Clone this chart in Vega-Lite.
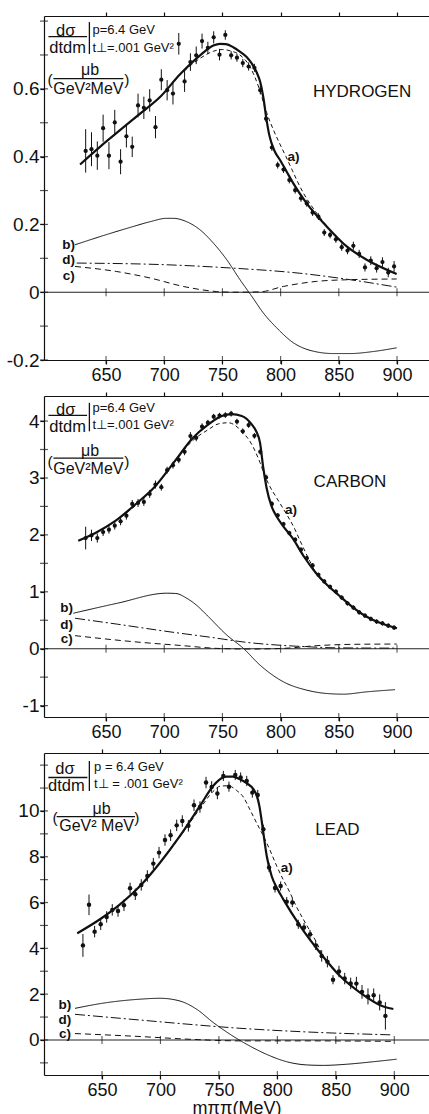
{
"$schema":"https://vega.github.io/schema/vega-lite/v6.json",
"background":"white",
"padding":{"left":0,"top":11,"right":0,"bottom":0},
"spacing":7,
"config":{"view":{"stroke":null},"font":"Liberation Sans","axis":{"labelFont":"Liberation Sans","titleFont":"Liberation Sans","domainColor":"#111","tickColor":"#111","labelColor":"#111","titleColor":"#111","domainWidth":1.2,"tickWidth":1.2,"grid":false,"labelOverlap":false}},
"datasets":{
"xt":[{"m":650},{"m":700},{"m":750},{"m":800},{"m":850},{"m":900}],
"yt":[{"p":"H","v":-0.2},{"p":"H","v":-0.1},{"p":"H","v":0},{"p":"H","v":0.1},{"p":"H","v":0.2},{"p":"H","v":0.3},{"p":"H","v":0.4},{"p":"H","v":0.5},{"p":"H","v":0.6},{"p":"H","v":0.7},{"p":"H","v":0.8},
{"p":"C","v":-1},{"p":"C","v":-0.5},{"p":"C","v":0},{"p":"C","v":0.5},{"p":"C","v":1},{"p":"C","v":1.5},{"p":"C","v":2},{"p":"C","v":2.5},{"p":"C","v":3},{"p":"C","v":3.5},{"p":"C","v":4},
{"p":"L","v":-1},{"p":"L","v":0},{"p":"L","v":1},{"p":"L","v":2},{"p":"L","v":3},{"p":"L","v":4},{"p":"L","v":5},{"p":"L","v":6},{"p":"L","v":7},{"p":"L","v":8},{"p":"L","v":9},{"p":"L","v":10},{"p":"L","v":11},{"p":"L","v":12}],
"pts":[
{"p":"H","m":632.5,"v":0.417,"lo":0.353,"hi":0.481},{"p":"H","m":637.5,"v":0.422,"lo":0.372,"hi":0.472},{"p":"H","m":642.5,"v":0.403,"lo":0.361,"hi":0.445},{"p":"H","m":647.5,"v":0.484,"lo":0.444,"hi":0.524},{"p":"H","m":652.5,"v":0.403,"lo":0.363,"hi":0.443},{"p":"H","m":657.5,"v":0.501,"lo":0.464,"hi":0.538},{"p":"H","m":662.5,"v":0.385,"lo":0.348,"hi":0.422},{"p":"H","m":667.5,"v":0.46,"lo":0.427,"hi":0.493},{"p":"H","m":672.5,"v":0.429,"lo":0.399,"hi":0.459},{"p":"H","m":677.5,"v":0.551,"lo":0.516,"hi":0.586},{"p":"H","m":682.5,"v":0.544,"lo":0.511,"hi":0.577},{"p":"H","m":687.5,"v":0.566,"lo":0.533,"hi":0.599},{"p":"H","m":692.5,"v":0.487,"lo":0.454,"hi":0.52},{"p":"H","m":697.5,"v":0.627,"lo":0.596,"hi":0.658},{"p":"H","m":702.5,"v":0.596,"lo":0.566,"hi":0.626},{"p":"H","m":707.5,"v":0.586,"lo":0.554,"hi":0.618},{"p":"H","m":712.5,"v":0.733,"lo":0.701,"hi":0.765},{"p":"H","m":717.5,"v":0.622,"lo":0.591,"hi":0.653},{"p":"H","m":722.5,"v":0.679,"lo":0.653,"hi":0.705},{"p":"H","m":727.5,"v":0.699,"lo":0.673,"hi":0.725},{"p":"H","m":732.5,"v":0.741,"lo":0.719,"hi":0.763},{"p":"H","m":737.5,"v":0.721,"lo":0.703,"hi":0.739},{"p":"H","m":742.5,"v":0.752,"lo":0.734,"hi":0.77},{"p":"H","m":747.5,"v":0.701,"lo":0.684,"hi":0.718},{"p":"H","m":752.5,"v":0.759,"lo":0.745,"hi":0.773},{"p":"H","m":757.5,"v":0.699,"lo":0.687,"hi":0.711},{"p":"H","m":762.5,"v":0.692,"lo":0.68,"hi":0.704},{"p":"H","m":767.5,"v":0.676,"lo":0.664,"hi":0.688},{"p":"H","m":772.5,"v":0.666,"lo":0.654,"hi":0.678},{"p":"H","m":777.5,"v":0.662,"lo":0.65,"hi":0.674},{"p":"H","m":782.5,"v":0.596,"lo":0.584,"hi":0.608},{"p":"H","m":787.5,"v":0.512,"lo":0.502,"hi":0.522},{"p":"H","m":792.5,"v":0.427,"lo":0.417,"hi":0.437},{"p":"H","m":797.5,"v":0.375,"lo":0.365,"hi":0.385},{"p":"H","m":802.5,"v":0.362,"lo":0.352,"hi":0.372},{"p":"H","m":807.5,"v":0.331,"lo":0.321,"hi":0.341},{"p":"H","m":812.5,"v":0.301,"lo":0.291,"hi":0.311},{"p":"H","m":817.5,"v":0.277,"lo":0.267,"hi":0.287},{"p":"H","m":822.5,"v":0.262,"lo":0.252,"hi":0.272},{"p":"H","m":827.5,"v":0.235,"lo":0.225,"hi":0.245},{"p":"H","m":832.5,"v":0.223,"lo":0.213,"hi":0.233},{"p":"H","m":837.5,"v":0.176,"lo":0.166,"hi":0.186},{"p":"H","m":842.5,"v":0.169,"lo":0.159,"hi":0.179},{"p":"H","m":847.5,"v":0.156,"lo":0.146,"hi":0.166},{"p":"H","m":852.5,"v":0.133,"lo":0.122,"hi":0.144},{"p":"H","m":857.5,"v":0.123,"lo":0.112,"hi":0.134},{"p":"H","m":862.5,"v":0.137,"lo":0.125,"hi":0.149},{"p":"H","m":867.5,"v":0.113,"lo":0.101,"hi":0.125},{"p":"H","m":872.5,"v":0.073,"lo":0.061,"hi":0.085},{"p":"H","m":877.5,"v":0.093,"lo":0.08,"hi":0.106},{"p":"H","m":882.5,"v":0.071,"lo":0.058,"hi":0.084},{"p":"H","m":887.5,"v":0.089,"lo":0.075,"hi":0.103},{"p":"H","m":892.5,"v":0.058,"lo":0.044,"hi":0.072},{"p":"H","m":897.5,"v":0.076,"lo":0.06,"hi":0.092},
{"p":"C","m":632.5,"v":1.944,"lo":1.744,"hi":2.144},{"p":"C","m":637.5,"v":1.991,"lo":1.891,"hi":2.091},{"p":"C","m":642.5,"v":1.944,"lo":1.864,"hi":2.024},{"p":"C","m":647.5,"v":2.05,"lo":1.98,"hi":2.12},{"p":"C","m":652.5,"v":2.091,"lo":2.021,"hi":2.161},{"p":"C","m":657.5,"v":2.162,"lo":2.092,"hi":2.232},{"p":"C","m":662.5,"v":2.238,"lo":2.168,"hi":2.308},{"p":"C","m":667.5,"v":2.338,"lo":2.268,"hi":2.408},{"p":"C","m":672.5,"v":2.543,"lo":2.473,"hi":2.613},{"p":"C","m":677.5,"v":2.561,"lo":2.491,"hi":2.631},{"p":"C","m":682.5,"v":2.579,"lo":2.509,"hi":2.649},{"p":"C","m":687.5,"v":2.72,"lo":2.65,"hi":2.79},{"p":"C","m":692.5,"v":2.884,"lo":2.814,"hi":2.954},{"p":"C","m":697.5,"v":2.837,"lo":2.777,"hi":2.897},{"p":"C","m":702.5,"v":3.137,"lo":3.077,"hi":3.197},{"p":"C","m":707.5,"v":3.225,"lo":3.165,"hi":3.285},{"p":"C","m":712.5,"v":3.319,"lo":3.259,"hi":3.379},{"p":"C","m":717.5,"v":3.46,"lo":3.4,"hi":3.52},{"p":"C","m":722.5,"v":3.736,"lo":3.666,"hi":3.806},{"p":"C","m":727.5,"v":3.706,"lo":3.646,"hi":3.766},{"p":"C","m":732.5,"v":3.9,"lo":3.84,"hi":3.96},{"p":"C","m":737.5,"v":3.971,"lo":3.921,"hi":4.021},{"p":"C","m":742.5,"v":4.076,"lo":4.026,"hi":4.126},{"p":"C","m":747.5,"v":4.094,"lo":4.044,"hi":4.144},{"p":"C","m":752.5,"v":4.106,"lo":4.056,"hi":4.156},{"p":"C","m":757.5,"v":4.129,"lo":4.079,"hi":4.179},{"p":"C","m":762.5,"v":3.99,"lo":3.94,"hi":4.04},{"p":"C","m":767.5,"v":3.82,"lo":3.77,"hi":3.87},{"p":"C","m":772.5,"v":3.93,"lo":3.88,"hi":3.98},{"p":"C","m":777.5,"v":3.74,"lo":3.69,"hi":3.79},{"p":"C","m":782.5,"v":3.46,"lo":3.41,"hi":3.51},{"p":"C","m":787.5,"v":3.01,"lo":2.96,"hi":3.06},{"p":"C","m":792.5,"v":2.543,"lo":2.493,"hi":2.593},{"p":"C","m":797.5,"v":2.344,"lo":2.304,"hi":2.384},{"p":"C","m":802.5,"v":2.19,"lo":2.15,"hi":2.23},{"p":"C","m":807.5,"v":2.032,"lo":1.992,"hi":2.072},{"p":"C","m":812.5,"v":1.915,"lo":1.875,"hi":1.955},{"p":"C","m":817.5,"v":1.739,"lo":1.699,"hi":1.779},{"p":"C","m":822.5,"v":1.591,"lo":1.551,"hi":1.631},{"p":"C","m":827.5,"v":1.463,"lo":1.423,"hi":1.503},{"p":"C","m":832.5,"v":1.298,"lo":1.258,"hi":1.338},{"p":"C","m":837.5,"v":1.181,"lo":1.141,"hi":1.221},{"p":"C","m":842.5,"v":1.087,"lo":1.047,"hi":1.127},{"p":"C","m":847.5,"v":1.004,"lo":0.964,"hi":1.044},{"p":"C","m":852.5,"v":0.899,"lo":0.859,"hi":0.939},{"p":"C","m":857.5,"v":0.798,"lo":0.758,"hi":0.838},{"p":"C","m":862.5,"v":0.722,"lo":0.682,"hi":0.762},{"p":"C","m":867.5,"v":0.64,"lo":0.6,"hi":0.68},{"p":"C","m":872.5,"v":0.581,"lo":0.541,"hi":0.621},{"p":"C","m":877.5,"v":0.522,"lo":0.482,"hi":0.562},{"p":"C","m":882.5,"v":0.476,"lo":0.436,"hi":0.516},{"p":"C","m":887.5,"v":0.446,"lo":0.406,"hi":0.486},{"p":"C","m":892.5,"v":0.405,"lo":0.365,"hi":0.445},{"p":"C","m":897.5,"v":0.37,"lo":0.33,"hi":0.41},
{"p":"L","m":633.7,"v":4.13,"lo":3.63,"hi":4.63},{"p":"L","m":638.9,"v":5.9,"lo":5.45,"hi":6.35},{"p":"L","m":643.7,"v":4.73,"lo":4.48,"hi":4.98},{"p":"L","m":648.9,"v":5.05,"lo":4.8,"hi":5.3},{"p":"L","m":654,"v":5.37,"lo":5.12,"hi":5.62},{"p":"L","m":658.8,"v":5.68,"lo":5.43,"hi":5.93},{"p":"L","m":663.7,"v":5.63,"lo":5.38,"hi":5.88},{"p":"L","m":668.8,"v":5.88,"lo":5.63,"hi":6.13},{"p":"L","m":674,"v":6.62,"lo":6.37,"hi":6.87},{"p":"L","m":678.5,"v":6.36,"lo":6.11,"hi":6.61},{"p":"L","m":683.6,"v":6.77,"lo":6.52,"hi":7.02},{"p":"L","m":688.8,"v":7.16,"lo":6.91,"hi":7.41},{"p":"L","m":693.9,"v":7.7,"lo":7.45,"hi":7.95},{"p":"L","m":698.8,"v":8.18,"lo":7.93,"hi":8.43},{"p":"L","m":703.9,"v":8.73,"lo":8.48,"hi":8.98},{"p":"L","m":708.7,"v":8.94,"lo":8.69,"hi":9.19},{"p":"L","m":713.9,"v":9.37,"lo":9.12,"hi":9.62},{"p":"L","m":718.7,"v":9.56,"lo":9.31,"hi":9.81},{"p":"L","m":723.9,"v":9.35,"lo":9.1,"hi":9.6},{"p":"L","m":728.7,"v":10.25,"lo":10.0,"hi":10.5},{"p":"L","m":733.8,"v":10.17,"lo":9.92,"hi":10.42},{"p":"L","m":739,"v":11.24,"lo":10.99,"hi":11.49},{"p":"L","m":743.8,"v":11.05,"lo":10.8,"hi":11.3},{"p":"L","m":748.7,"v":10.76,"lo":10.51,"hi":11.01},{"p":"L","m":753.8,"v":11.53,"lo":11.31,"hi":11.75},{"p":"L","m":758.6,"v":11.06,"lo":10.84,"hi":11.28},{"p":"L","m":764,"v":11.57,"lo":11.35,"hi":11.79},{"p":"L","m":768.6,"v":11.46,"lo":11.24,"hi":11.68},{"p":"L","m":773.8,"v":11.31,"lo":11.09,"hi":11.53},{"p":"L","m":778.6,"v":10.8,"lo":10.58,"hi":11.02},{"p":"L","m":783.2,"v":10.7,"lo":10.48,"hi":10.92},{"p":"L","m":788,"v":9.2,"lo":9.0,"hi":9.4},{"p":"L","m":792.9,"v":7.53,"lo":7.33,"hi":7.73},{"p":"L","m":798,"v":6.64,"lo":6.44,"hi":6.84},{"p":"L","m":802.8,"v":6.72,"lo":6.52,"hi":6.92},{"p":"L","m":808,"v":6.04,"lo":5.84,"hi":6.24},{"p":"L","m":812.8,"v":6.0,"lo":5.8,"hi":6.2},{"p":"L","m":817.9,"v":5.05,"lo":4.85,"hi":5.25},{"p":"L","m":822.8,"v":4.91,"lo":4.71,"hi":5.11},{"p":"L","m":827.9,"v":4.61,"lo":4.41,"hi":4.81},{"p":"L","m":832.8,"v":4.13,"lo":3.93,"hi":4.33},{"p":"L","m":837.9,"v":3.67,"lo":3.42,"hi":3.92},{"p":"L","m":842.8,"v":3.42,"lo":3.17,"hi":3.67},{"p":"L","m":847.6,"v":2.63,"lo":2.43,"hi":2.83},{"p":"L","m":852.7,"v":2.99,"lo":2.74,"hi":3.24},{"p":"L","m":857.6,"v":2.68,"lo":2.43,"hi":2.93},{"p":"L","m":862.7,"v":2.47,"lo":2.22,"hi":2.72},{"p":"L","m":867.6,"v":2.46,"lo":2.16,"hi":2.76},{"p":"L","m":872.4,"v":2.1,"lo":1.8,"hi":2.4},{"p":"L","m":877.5,"v":1.9,"lo":1.55,"hi":2.25},{"p":"L","m":882.4,"v":1.95,"lo":1.65,"hi":2.25},{"p":"L","m":887.5,"v":1.64,"lo":1.29,"hi":1.99},{"p":"L","m":892.4,"v":1.05,"lo":0.45,"hi":1.65}
],
"crv":[
{"p":"H","c":"a","m":627.7,"v":0.377},{"p":"H","c":"a","m":644.8,"v":0.429},{"p":"H","c":"a","m":662,"v":0.478},{"p":"H","c":"a","m":679.2,"v":0.527},{"p":"H","c":"a","m":696.4,"v":0.576},{"p":"H","c":"a","m":713.6,"v":0.643},{"p":"H","c":"a","m":730.8,"v":0.699},{"p":"H","c":"a","m":742.2,"v":0.728},{"p":"H","c":"a","m":747.8,"v":0.733},{"p":"H","c":"a","m":753,"v":0.732},{"p":"H","c":"a","m":759.3,"v":0.723},{"p":"H","c":"a","m":765,"v":0.71},{"p":"H","c":"a","m":770.8,"v":0.694},{"p":"H","c":"a","m":775,"v":0.676},{"p":"H","c":"a","m":779.4,"v":0.649},{"p":"H","c":"a","m":782.5,"v":0.62},{"p":"H","c":"a","m":785.1,"v":0.576},{"p":"H","c":"a","m":788,"v":0.507},{"p":"H","c":"a","m":790,"v":0.468},{"p":"H","c":"a","m":792.3,"v":0.439},{"p":"H","c":"a","m":795,"v":0.415},{"p":"H","c":"a","m":799.5,"v":0.39},{"p":"H","c":"a","m":805,"v":0.357},{"p":"H","c":"a","m":810.9,"v":0.321},{"p":"H","c":"a","m":822.4,"v":0.262},{"p":"H","c":"a","m":839.6,"v":0.194},{"p":"H","c":"a","m":856.8,"v":0.135},{"p":"H","c":"a","m":873.9,"v":0.096},{"p":"H","c":"a","m":899.7,"v":0.054},
{"p":"H","c":"a0","m":627.7,"v":0.377},{"p":"H","c":"a0","m":662,"v":0.478},{"p":"H","c":"a0","m":696.4,"v":0.576},{"p":"H","c":"a0","m":713.6,"v":0.641},{"p":"H","c":"a0","m":730.8,"v":0.69},{"p":"H","c":"a0","m":742.2,"v":0.711},{"p":"H","c":"a0","m":750,"v":0.716},{"p":"H","c":"a0","m":757,"v":0.712},{"p":"H","c":"a0","m":765,"v":0.7},{"p":"H","c":"a0","m":773.7,"v":0.665},{"p":"H","c":"a0","m":781.7,"v":0.6},{"p":"H","c":"a0","m":788,"v":0.53},{"p":"H","c":"a0","m":793.7,"v":0.48},{"p":"H","c":"a0","m":799,"v":0.44},{"p":"H","c":"a0","m":804.6,"v":0.4},{"p":"H","c":"a0","m":810,"v":0.36},{"p":"H","c":"a0","m":814.7,"v":0.325},{"p":"H","c":"a0","m":820,"v":0.29},{"p":"H","c":"a0","m":826.7,"v":0.254},{"p":"H","c":"a0","m":839.6,"v":0.196},
{"p":"H","c":"b","m":623.4,"v":0.14},{"p":"H","c":"b","m":644.8,"v":0.164},{"p":"H","c":"b","m":673.5,"v":0.194},{"p":"H","c":"b","m":687.8,"v":0.208},{"p":"H","c":"b","m":702.1,"v":0.218},{"p":"H","c":"b","m":707.8,"v":0.218},{"p":"H","c":"b","m":719.3,"v":0.208},{"p":"H","c":"b","m":730.8,"v":0.184},{"p":"H","c":"b","m":742.2,"v":0.145},{"p":"H","c":"b","m":753.7,"v":0.096},{"p":"H","c":"b","m":765.1,"v":0.037},{"p":"H","c":"b","m":775.2,"v":-0.012},{"p":"H","c":"b","m":785.1,"v":-0.061},{"p":"H","c":"b","m":796.6,"v":-0.105},{"p":"H","c":"b","m":810.9,"v":-0.149},{"p":"H","c":"b","m":828.1,"v":-0.174},{"p":"H","c":"b","m":845.3,"v":-0.181},{"p":"H","c":"b","m":859.6,"v":-0.181},{"p":"H","c":"b","m":879.6,"v":-0.175},{"p":"H","c":"b","m":899.7,"v":-0.164},
{"p":"H","c":"d","m":624.8,"v":0.086},{"p":"H","c":"d","m":702,"v":0.081},{"p":"H","c":"d","m":759.3,"v":0.071},{"p":"H","c":"d","m":816.5,"v":0.056},{"p":"H","c":"d","m":859.6,"v":0.037},{"p":"H","c":"d","m":899.7,"v":0.015},
{"p":"H","c":"c","m":623.4,"v":0.076},{"p":"H","c":"c","m":659.2,"v":0.061},{"p":"H","c":"c","m":687.8,"v":0.042},{"p":"H","c":"c","m":716.4,"v":0.017},{"p":"H","c":"c","m":745,"v":0.002},{"p":"H","c":"c","m":759.3,"v":0.0},{"p":"H","c":"c","m":782.2,"v":0.001},{"p":"H","c":"c","m":802.3,"v":0.017},{"p":"H","c":"c","m":831,"v":0.032},{"p":"H","c":"c","m":859.6,"v":0.037},{"p":"H","c":"c","m":899.7,"v":0.039},
{"p":"C","c":"a","m":626.2,"v":1.898},{"p":"C","c":"a","m":640.5,"v":2.03},{"p":"C","c":"a","m":657.7,"v":2.24},{"p":"C","c":"a","m":674.9,"v":2.53},{"p":"C","c":"a","m":692.1,"v":2.85},{"p":"C","c":"a","m":709.3,"v":3.3},{"p":"C","c":"a","m":723.6,"v":3.68},{"p":"C","c":"a","m":737.9,"v":3.94},{"p":"C","c":"a","m":749.4,"v":4.09},{"p":"C","c":"a","m":758,"v":4.12},{"p":"C","c":"a","m":766.6,"v":4.09},{"p":"C","c":"a","m":775.2,"v":3.94},{"p":"C","c":"a","m":779,"v":3.82},{"p":"C","c":"a","m":782.3,"v":3.62},{"p":"C","c":"a","m":785.1,"v":3.18},{"p":"C","c":"a","m":788,"v":2.82},{"p":"C","c":"a","m":792.3,"v":2.5},{"p":"C","c":"a","m":797,"v":2.31},{"p":"C","c":"a","m":802,"v":2.16},{"p":"C","c":"a","m":810,"v":1.95},{"p":"C","c":"a","m":820,"v":1.62},{"p":"C","c":"a","m":830,"v":1.34},{"p":"C","c":"a","m":840,"v":1.12},{"p":"C","c":"a","m":850,"v":0.94},{"p":"C","c":"a","m":860,"v":0.76},{"p":"C","c":"a","m":870,"v":0.61},{"p":"C","c":"a","m":880,"v":0.5},{"p":"C","c":"a","m":890,"v":0.42},{"p":"C","c":"a","m":900,"v":0.36},
{"p":"C","c":"a0","m":626.2,"v":1.898},{"p":"C","c":"a0","m":657.7,"v":2.24},{"p":"C","c":"a0","m":692.1,"v":2.85},{"p":"C","c":"a0","m":709.3,"v":3.29},{"p":"C","c":"a0","m":723.6,"v":3.64},{"p":"C","c":"a0","m":737.9,"v":3.85},{"p":"C","c":"a0","m":746.5,"v":3.95},{"p":"C","c":"a0","m":755.1,"v":3.97},{"p":"C","c":"a0","m":766.6,"v":3.82},{"p":"C","c":"a0","m":775.2,"v":3.59},{"p":"C","c":"a0","m":782.3,"v":3.27},{"p":"C","c":"a0","m":786.6,"v":3.03},{"p":"C","c":"a0","m":790,"v":2.88},{"p":"C","c":"a0","m":796.6,"v":2.65},{"p":"C","c":"a0","m":804,"v":2.4},{"p":"C","c":"a0","m":811,"v":2.15},{"p":"C","c":"a0","m":818,"v":1.84},{"p":"C","c":"a0","m":825.3,"v":1.53},{"p":"C","c":"a0","m":831,"v":1.31},{"p":"C","c":"a0","m":840,"v":1.12},
{"p":"C","c":"b","m":621.9,"v":0.623},{"p":"C","c":"b","m":660,"v":0.8},{"p":"C","c":"b","m":702.1,"v":0.975},{"p":"C","c":"b","m":710,"v":0.97},{"p":"C","c":"b","m":719.3,"v":0.887},{"p":"C","c":"b","m":728,"v":0.76},{"p":"C","c":"b","m":736.5,"v":0.593},{"p":"C","c":"b","m":753.7,"v":0.241},{"p":"C","c":"b","m":768,"v":0.006},{"p":"C","c":"b","m":782.3,"v":-0.288},{"p":"C","c":"b","m":802.3,"v":-0.581},{"p":"C","c":"b","m":822.4,"v":-0.728},{"p":"C","c":"b","m":839.6,"v":-0.787},{"p":"C","c":"b","m":853.9,"v":-0.799},{"p":"C","c":"b","m":873.9,"v":-0.758},{"p":"C","c":"b","m":898.3,"v":-0.72},
{"p":"C","c":"d","m":623.4,"v":0.535},{"p":"C","c":"d","m":660,"v":0.43},{"p":"C","c":"d","m":700,"v":0.31},{"p":"C","c":"d","m":740,"v":0.2},{"p":"C","c":"d","m":770.9,"v":0.111},{"p":"C","c":"d","m":800,"v":0.06},{"p":"C","c":"d","m":822.4,"v":0.035},{"p":"C","c":"d","m":848,"v":0.015},{"p":"C","c":"d","m":900,"v":0.01},
{"p":"C","c":"c","m":623.4,"v":0.229},{"p":"C","c":"c","m":673.5,"v":0.123},{"p":"C","c":"c","m":716.4,"v":0.053},{"p":"C","c":"c","m":745,"v":0.006},{"p":"C","c":"c","m":773.7,"v":-0.006},{"p":"C","c":"c","m":802.3,"v":0.006},{"p":"C","c":"c","m":831,"v":0.053},{"p":"C","c":"c","m":859.6,"v":0.076},{"p":"C","c":"c","m":899.7,"v":0.082},
{"p":"L","c":"a","m":628.9,"v":4.66},{"p":"L","c":"a","m":648.3,"v":5.27},{"p":"L","c":"a","m":665.4,"v":5.92},{"p":"L","c":"a","m":682.5,"v":6.72},{"p":"L","c":"a","m":699.6,"v":7.74},{"p":"L","c":"a","m":716.7,"v":8.91},{"p":"L","c":"a","m":733.8,"v":10.22},{"p":"L","c":"a","m":745.2,"v":11.1},{"p":"L","c":"a","m":750,"v":11.35},{"p":"L","c":"a","m":756.6,"v":11.5},{"p":"L","c":"a","m":762,"v":11.5},{"p":"L","c":"a","m":768,"v":11.38},{"p":"L","c":"a","m":774,"v":11.2},{"p":"L","c":"a","m":779.5,"v":10.95},{"p":"L","c":"a","m":782.5,"v":10.65},{"p":"L","c":"a","m":784.6,"v":10.22},{"p":"L","c":"a","m":786.5,"v":9.6},{"p":"L","c":"a","m":788,"v":9.05},{"p":"L","c":"a","m":790.9,"v":8.03},{"p":"L","c":"a","m":795.1,"v":7.16},{"p":"L","c":"a","m":800,"v":6.6},{"p":"L","c":"a","m":805.1,"v":6.14},{"p":"L","c":"a","m":819.4,"v":4.98},{"p":"L","c":"a","m":836.5,"v":3.81},{"p":"L","c":"a","m":853.6,"v":2.79},{"p":"L","c":"a","m":870.7,"v":2.07},{"p":"L","c":"a","m":890.7,"v":1.46},{"p":"L","c":"a","m":899.2,"v":1.35},
{"p":"L","c":"a0","m":628.9,"v":4.66},{"p":"L","c":"a0","m":665.4,"v":5.92},{"p":"L","c":"a0","m":699.6,"v":7.74},{"p":"L","c":"a0","m":716.7,"v":8.88},{"p":"L","c":"a0","m":733.8,"v":10.1},{"p":"L","c":"a0","m":745,"v":10.85},{"p":"L","c":"a0","m":751,"v":11.08},{"p":"L","c":"a0","m":758,"v":11.1},{"p":"L","c":"a0","m":765,"v":10.9},{"p":"L","c":"a0","m":771,"v":10.6},{"p":"L","c":"a0","m":776.6,"v":10.05},{"p":"L","c":"a0","m":782,"v":9.5},{"p":"L","c":"a0","m":788,"v":8.91},{"p":"L","c":"a0","m":794,"v":8.25},{"p":"L","c":"a0","m":799.4,"v":7.6},{"p":"L","c":"a0","m":805,"v":7.0},{"p":"L","c":"a0","m":810.8,"v":6.43},{"p":"L","c":"a0","m":816,"v":5.85},{"p":"L","c":"a0","m":822.2,"v":5.27},{"p":"L","c":"a0","m":828,"v":4.75},{"p":"L","c":"a0","m":833.6,"v":4.25},{"p":"L","c":"a0","m":838,"v":3.75},
{"p":"L","c":"b","m":626.9,"v":1.38},{"p":"L","c":"b","m":654,"v":1.63},{"p":"L","c":"b","m":682.5,"v":1.78},{"p":"L","c":"b","m":699.6,"v":1.82},{"p":"L","c":"b","m":716.7,"v":1.7},{"p":"L","c":"b","m":731,"v":1.34},{"p":"L","c":"b","m":745.2,"v":0.76},{"p":"L","c":"b","m":759.5,"v":0.25},{"p":"L","c":"b","m":773.8,"v":-0.19},{"p":"L","c":"b","m":790.9,"v":-0.63},{"p":"L","c":"b","m":808,"v":-0.95},{"p":"L","c":"b","m":825.1,"v":-1.09},{"p":"L","c":"b","m":839.3,"v":-1.11},{"p":"L","c":"b","m":859.3,"v":-1.06},{"p":"L","c":"b","m":882.1,"v":-0.95},{"p":"L","c":"b","m":902,"v":-0.84},
{"p":"L","c":"d","m":626.9,"v":1.12},{"p":"L","c":"d","m":682.5,"v":0.87},{"p":"L","c":"d","m":725.3,"v":0.68},{"p":"L","c":"d","m":768,"v":0.51},{"p":"L","c":"d","m":825.1,"v":0.35},{"p":"L","c":"d","m":899.2,"v":0.22},
{"p":"L","c":"c","m":626.9,"v":0.28},{"p":"L","c":"c","m":682.5,"v":0.15},{"p":"L","c":"c","m":725.3,"v":0.03},{"p":"L","c":"c","m":768,"v":-0.04},{"p":"L","c":"c","m":825.1,"v":-0.04},{"p":"L","c":"c","m":899.2,"v":-0.06}
],
"txt":[
{"p":"H","k":"lab","m":617.9,"v":0.14,"t":"b)"},{"p":"H","k":"lab","m":617.9,"v":0.096,"t":"d)"},{"p":"H","k":"lab","m":617.9,"v":0.049,"t":"c)"},{"p":"H","k":"lab","m":811,"v":0.4,"t":"a)"},
{"p":"H","k":"name","m":870,"v":0.59,"t":"HYDROGEN"},{"p":"H","k":"frac","m":615.4,"v":0.772,"t":"dσ"},{"p":"H","k":"frac","m":617,"v":0.722,"t":"dtdm"},{"p":"H","k":"unit","m":636.3,"v":0.655,"t":"μb"},{"p":"H","k":"unit","m":634.8,"v":0.601,"t":"GeV²MeV"},{"p":"H","k":"paren","m":601.9,"v":0.627,"t":"("},{"p":"H","k":"paren","m":667.8,"v":0.627,"t":")"},
{"p":"H","k":"note","m":638.3,"v":0.774,"t":"p=6.4 GeV"},{"p":"H","k":"note","m":638.3,"v":0.721,"t":"t⊥=.001 GeV²"},
{"p":"C","k":"lab","m":616.2,"v":0.71,"t":"b)"},{"p":"C","k":"lab","m":616.2,"v":0.417,"t":"d)"},{"p":"C","k":"lab","m":616.2,"v":0.17,"t":"c)"},{"p":"C","k":"lab","m":808.9,"v":2.44,"t":"a)"},
{"p":"C","k":"name","m":859.6,"v":2.93,"t":"CARBON"},{"p":"C","k":"frac","m":615.4,"v":4.19,"t":"dσ"},{"p":"C","k":"frac","m":617,"v":3.894,"t":"dtdm"},{"p":"C","k":"unit","m":636.3,"v":3.48,"t":"μb"},{"p":"C","k":"unit","m":634.8,"v":3.15,"t":"GeV²MeV"},{"p":"C","k":"paren","m":601.9,"v":3.28,"t":"("},{"p":"C","k":"paren","m":667.8,"v":3.28,"t":")"},
{"p":"C","k":"note","m":638.3,"v":4.23,"t":"p=6.4 GeV"},{"p":"C","k":"note","m":638.3,"v":3.93,"t":"t⊥=.001 GeV²"},
{"p":"L","k":"lab","m":618.3,"v":1.52,"t":"b)"},{"p":"L","k":"lab","m":618.3,"v":0.85,"t":"d)"},{"p":"L","k":"lab","m":618.3,"v":0.24,"t":"c)"},{"p":"L","k":"lab","m":808,"v":7.53,"t":"a)"},
{"p":"L","k":"name","m":851.3,"v":9.17,"t":"LEAD"},{"p":"L","k":"frac","m":618.3,"v":11.82,"t":"dσ"},{"p":"L","k":"frac","m":619.5,"v":11.1,"t":"dtdm"},{"p":"L","k":"unit","m":649.7,"v":10.07,"t":"μb"},{"p":"L","k":"unit","m":645.4,"v":9.34,"t":"GeV² MeV"},{"p":"L","k":"paren","m":609.8,"v":9.71,"t":"("},{"p":"L","k":"paren","m":679.7,"v":9.71,"t":")"},
{"p":"L","k":"note","m":643.2,"v":11.92,"t":"p = 6.4 GeV"},{"p":"L","k":"note","m":643.2,"v":11.19,"t":"t⊥ = .001 GeV²"}
],
"seg":[
{"p":"H","m":600.5,"m2":633.7,"v":0.754,"v2":0.754},{"p":"H","m":604.8,"m2":664.9,"v":0.63,"v2":0.63},{"p":"H","m":635.7,"m2":635.7,"v":0.703,"v2":0.797},
{"p":"C","m":600.5,"m2":633.7,"v":4.1,"v2":4.1},{"p":"C","m":604.8,"m2":664.9,"v":3.35,"v2":3.35},{"p":"C","m":635.7,"m2":635.7,"v":3.82,"v2":4.32},
{"p":"L","m":604.1,"m2":637.5,"v":11.46,"v2":11.46},{"p":"L","m":611.2,"m2":678.2,"v":9.75,"v2":9.75},{"p":"L","m":639.2,"m2":639.2,"v":10.87,"v2":12.18}
]
},
"vconcat":[
{"width":385,"height":344,"resolve":{"axis":{"x":"independent"}},
"layer":[
{"data":{"values":[{}]},"mark":{"type":"rule","color":"#222","strokeWidth":1.1},"encoding":{"y":{"datum":0,"type":"quantitative"}}},
{"data":{"name":"crv"},"transform":[{"filter":"datum.p=='H' && datum.c=='a'"}],"mark":{"type":"line","color":"#111","strokeWidth":2.2,"interpolate":"monotone"},
"encoding":{"x":{"field":"m","type":"quantitative","scale":{"domain":[596.7,927.5],"nice":false,"zero":false},"axis":{"orient":"bottom","values":[650,700,750,800,850,900],"title":null,"labelFontSize":18,"tickSize":4,"labelPadding":2}},
"y":{"field":"v","type":"quantitative","scale":{"domain":[-0.2,0.815],"nice":false,"zero":false},"axis":{"values":[-0.2,0,0.2,0.4,0.6],"labelExpr":"datum.value===-0.2?'-0.2':datum.value===0?'0':datum.value===0.2?'0.2':datum.value===0.4?'0.4':datum.value===0.6?'0.6':''","title":null,"labelFontSize":19,"labelOverlap":false,"tickSize":4,"labelPadding":1,"minExtent":44,"maxExtent":44}}}},
{"data":{"name":"crv"},"transform":[{"filter":"datum.p=='H' && datum.c!='a'"}],"mark":{"type":"line","color":"#111","strokeWidth":1,"interpolate":"monotone"},
"encoding":{"x":{"field":"m","type":"quantitative","axis":null},"y":{"field":"v","type":"quantitative","title":null},"strokeDash":{"field":"c","type":"nominal","scale":{"domain":["a0","b","c","d"],"range":[[4,3],[1,0],[6,4],[10,3,2,3]]},"legend":null}}},
{"data":{"name":"pts"},"transform":[{"filter":"datum.p=='H'"}],"mark":{"type":"rule","color":"#111","strokeWidth":1},"encoding":{"x":{"field":"m","type":"quantitative","axis":null},"y":{"field":"lo","type":"quantitative","title":null},"y2":{"field":"hi"}}},
{"data":{"name":"pts"},"transform":[{"filter":"datum.p=='H'"}],"mark":{"type":"circle","color":"#111","size":18,"opacity":1},"encoding":{"x":{"field":"m","type":"quantitative","axis":null},"y":{"field":"v","type":"quantitative","title":null}}},
{"data":{"name":"seg"},"transform":[{"filter":"datum.p=='H'"}],"mark":{"type":"rule","color":"#111","strokeWidth":1.3},"encoding":{"x":{"field":"m","type":"quantitative","axis":null},"x2":{"field":"m2"},"y":{"field":"v","type":"quantitative","title":null},"y2":{"field":"v2"}}},
{"data":{"name":"txt"},"transform":[{"filter":"datum.p=='H' && datum.k=='lab'"}],"mark":{"type":"text","font":"Liberation Sans","fontSize":13.5,"fontWeight":"bold","color":"#111","align":"center","baseline":"middle"},"encoding":{"x":{"field":"m","type":"quantitative","axis":null},"y":{"field":"v","type":"quantitative","title":null},"text":{"field":"t"}}},
{"data":{"name":"txt"},"transform":[{"filter":"datum.p=='H' && datum.k=='note'"}],"mark":{"type":"text","font":"Liberation Sans","fontSize":13,"color":"#111","align":"left","baseline":"middle"},"encoding":{"x":{"field":"m","type":"quantitative","axis":null},"y":{"field":"v","type":"quantitative","title":null},"text":{"field":"t"}}},
{"data":{"name":"txt"},"transform":[{"filter":"datum.p=='H' && datum.k!='lab' && datum.k!='note'"}],"mark":{"type":"text","font":"Liberation Sans","color":"#111","align":"center","baseline":"middle"},"encoding":{"x":{"field":"m","type":"quantitative","axis":null},"y":{"field":"v","type":"quantitative","title":null},"text":{"field":"t"},"size":{"field":"k","type":"ordinal","scale":{"domain":["name","frac","unit","paren"],"range":[17,15.5,17,28]},"legend":null}}},
{"data":{"name":"xt"},"mark":{"type":"tick","orient":"vertical","color":"#111","size":8,"thickness":1.1},"encoding":{"x":{"field":"m","type":"quantitative","axis":{"orient":"top","values":[650,700,750,800,850,900],"labels":false,"title":null,"tickSize":4}},"y":{"datum":0,"type":"quantitative"}}},
{"data":{"name":"xt"},"mark":{"type":"tick","orient":"vertical","color":"#111","size":8,"thickness":1.1},"encoding":{"x":{"field":"m","type":"quantitative","axis":null},"y":{"datum":-0.2,"type":"quantitative"}}},
{"data":{"name":"yt"},"transform":[{"filter":"datum.p=='H'"}],"mark":{"type":"tick","orient":"horizontal","color":"#111","size":8,"thickness":1.2},"encoding":{"x":{"datum":596.7,"type":"quantitative","axis":null},"y":{"field":"v","type":"quantitative","title":null}}}
]},
{"width":385,"height":321,"resolve":{"axis":{"x":"independent"}},
"layer":[
{"data":{"values":[{}]},"mark":{"type":"rule","color":"#222","strokeWidth":1.1},"encoding":{"y":{"datum":0,"type":"quantitative"}}},
{"data":{"name":"crv"},"transform":[{"filter":"datum.p=='C' && datum.c=='a'"}],"mark":{"type":"line","color":"#111","strokeWidth":2.2,"interpolate":"monotone"},
"encoding":{"x":{"field":"m","type":"quantitative","scale":{"domain":[596.7,927.5],"nice":false,"zero":false},"axis":{"orient":"bottom","values":[650,700,750,800,850,900],"title":null,"labelFontSize":18,"tickSize":4,"labelPadding":2}},
"y":{"field":"v","type":"quantitative","scale":{"domain":[-1.2,4.44],"nice":false,"zero":false},"axis":{"values":[-1,0,1,2,3,4],"labelExpr":"datum.value===-1?'-1':datum.value===0?'0':datum.value===1?'1':datum.value===2?'2':datum.value===3?'3':datum.value===4?'4':''","title":null,"labelFontSize":19,"labelOverlap":false,"tickSize":4,"labelPadding":1,"minExtent":44,"maxExtent":44}}}},
{"data":{"name":"crv"},"transform":[{"filter":"datum.p=='C' && datum.c!='a'"}],"mark":{"type":"line","color":"#111","strokeWidth":1,"interpolate":"monotone"},
"encoding":{"x":{"field":"m","type":"quantitative","axis":null},"y":{"field":"v","type":"quantitative","title":null},"strokeDash":{"field":"c","type":"nominal","scale":{"domain":["a0","b","c","d"],"range":[[4,3],[1,0],[6,4],[10,3,2,3]]},"legend":null}}},
{"data":{"name":"pts"},"transform":[{"filter":"datum.p=='C'"}],"mark":{"type":"rule","color":"#111","strokeWidth":1},"encoding":{"x":{"field":"m","type":"quantitative","axis":null},"y":{"field":"lo","type":"quantitative","title":null},"y2":{"field":"hi"}}},
{"data":{"name":"pts"},"transform":[{"filter":"datum.p=='C'"}],"mark":{"type":"circle","color":"#111","size":18,"opacity":1},"encoding":{"x":{"field":"m","type":"quantitative","axis":null},"y":{"field":"v","type":"quantitative","title":null}}},
{"data":{"name":"seg"},"transform":[{"filter":"datum.p=='C'"}],"mark":{"type":"rule","color":"#111","strokeWidth":1.3},"encoding":{"x":{"field":"m","type":"quantitative","axis":null},"x2":{"field":"m2"},"y":{"field":"v","type":"quantitative","title":null},"y2":{"field":"v2"}}},
{"data":{"name":"txt"},"transform":[{"filter":"datum.p=='C' && datum.k=='lab'"}],"mark":{"type":"text","font":"Liberation Sans","fontSize":13.5,"fontWeight":"bold","color":"#111","align":"center","baseline":"middle"},"encoding":{"x":{"field":"m","type":"quantitative","axis":null},"y":{"field":"v","type":"quantitative","title":null},"text":{"field":"t"}}},
{"data":{"name":"txt"},"transform":[{"filter":"datum.p=='C' && datum.k=='note'"}],"mark":{"type":"text","font":"Liberation Sans","fontSize":13,"color":"#111","align":"left","baseline":"middle"},"encoding":{"x":{"field":"m","type":"quantitative","axis":null},"y":{"field":"v","type":"quantitative","title":null},"text":{"field":"t"}}},
{"data":{"name":"txt"},"transform":[{"filter":"datum.p=='C' && datum.k!='lab' && datum.k!='note'"}],"mark":{"type":"text","font":"Liberation Sans","color":"#111","align":"center","baseline":"middle"},"encoding":{"x":{"field":"m","type":"quantitative","axis":null},"y":{"field":"v","type":"quantitative","title":null},"text":{"field":"t"},"size":{"field":"k","type":"ordinal","scale":{"domain":["name","frac","unit","paren"],"range":[17,15.5,17,28]},"legend":null}}},
{"data":{"name":"xt"},"mark":{"type":"tick","orient":"vertical","color":"#111","size":8,"thickness":1.1},"encoding":{"x":{"field":"m","type":"quantitative","axis":{"orient":"top","values":[650,700,750,800,850,900],"labels":false,"title":null,"tickSize":4}},"y":{"datum":0,"type":"quantitative"}}},
{"data":{"name":"xt"},"mark":{"type":"tick","orient":"vertical","color":"#111","size":8,"thickness":1.1},"encoding":{"x":{"field":"m","type":"quantitative","axis":null},"y":{"datum":-1.2,"type":"quantitative"}}},
{"data":{"name":"yt"},"transform":[{"filter":"datum.p=='C'"}],"mark":{"type":"tick","orient":"horizontal","color":"#111","size":8,"thickness":1.2},"encoding":{"x":{"datum":596.7,"type":"quantitative","axis":null},"y":{"field":"v","type":"quantitative","title":null}}}
]},
{"width":385,"height":322,"resolve":{"axis":{"x":"independent"}},
"layer":[
{"data":{"values":[{}]},"mark":{"type":"rule","color":"#222","strokeWidth":1.1},"encoding":{"y":{"datum":0,"type":"quantitative"}}},
{"data":{"name":"crv"},"transform":[{"filter":"datum.p=='L' && datum.c=='a'"}],"mark":{"type":"line","color":"#111","strokeWidth":2.2,"interpolate":"monotone"},
"encoding":{"x":{"field":"m","type":"quantitative","scale":{"domain":[600.4,929.7],"nice":false,"zero":false},"axis":{"orient":"bottom","values":[650,700,750,800,850,900],"title":"mππ(MeV)","titleFontSize":18,"titleFontWeight":"normal","titlePadding":0,"labelFontSize":18,"tickSize":4,"labelPadding":2}},
"y":{"field":"v","type":"quantitative","scale":{"domain":[-1.53,12.53],"nice":false,"zero":false},"axis":{"values":[0,2,4,6,8,10],"format":"d","title":null,"labelFontSize":19,"labelOverlap":false,"tickSize":4,"labelPadding":1,"minExtent":44,"maxExtent":44}}}},
{"data":{"name":"crv"},"transform":[{"filter":"datum.p=='L' && datum.c!='a'"}],"mark":{"type":"line","color":"#111","strokeWidth":1,"interpolate":"monotone"},
"encoding":{"x":{"field":"m","type":"quantitative","axis":null},"y":{"field":"v","type":"quantitative","title":null},"strokeDash":{"field":"c","type":"nominal","scale":{"domain":["a0","b","c","d"],"range":[[4,3],[1,0],[6,4],[10,3,2,3]]},"legend":null}}},
{"data":{"name":"pts"},"transform":[{"filter":"datum.p=='L'"}],"mark":{"type":"rule","color":"#111","strokeWidth":1},"encoding":{"x":{"field":"m","type":"quantitative","axis":null},"y":{"field":"lo","type":"quantitative","title":null},"y2":{"field":"hi"}}},
{"data":{"name":"pts"},"transform":[{"filter":"datum.p=='L'"}],"mark":{"type":"circle","color":"#111","size":20,"opacity":1},"encoding":{"x":{"field":"m","type":"quantitative","axis":null},"y":{"field":"v","type":"quantitative","title":null}}},
{"data":{"name":"seg"},"transform":[{"filter":"datum.p=='L'"}],"mark":{"type":"rule","color":"#111","strokeWidth":1.3},"encoding":{"x":{"field":"m","type":"quantitative","axis":null},"x2":{"field":"m2"},"y":{"field":"v","type":"quantitative","title":null},"y2":{"field":"v2"}}},
{"data":{"name":"txt"},"transform":[{"filter":"datum.p=='L' && datum.k=='lab'"}],"mark":{"type":"text","font":"Liberation Sans","fontSize":13.5,"fontWeight":"bold","color":"#111","align":"center","baseline":"middle"},"encoding":{"x":{"field":"m","type":"quantitative","axis":null},"y":{"field":"v","type":"quantitative","title":null},"text":{"field":"t"}}},
{"data":{"name":"txt"},"transform":[{"filter":"datum.p=='L' && datum.k=='note'"}],"mark":{"type":"text","font":"Liberation Sans","fontSize":13,"color":"#111","align":"left","baseline":"middle"},"encoding":{"x":{"field":"m","type":"quantitative","axis":null},"y":{"field":"v","type":"quantitative","title":null},"text":{"field":"t"}}},
{"data":{"name":"txt"},"transform":[{"filter":"datum.p=='L' && datum.k!='lab' && datum.k!='note'"}],"mark":{"type":"text","font":"Liberation Sans","color":"#111","align":"center","baseline":"middle"},"encoding":{"x":{"field":"m","type":"quantitative","axis":null},"y":{"field":"v","type":"quantitative","title":null},"text":{"field":"t"},"size":{"field":"k","type":"ordinal","scale":{"domain":["name","frac","unit","paren"],"range":[17,15.5,17,28]},"legend":null}}},
{"data":{"name":"xt"},"mark":{"type":"tick","orient":"vertical","color":"#111","size":8,"thickness":1.1},"encoding":{"x":{"field":"m","type":"quantitative","axis":{"orient":"top","values":[650,700,750,800,850,900],"labels":false,"title":null,"tickSize":4}},"y":{"datum":0,"type":"quantitative"}}},
{"data":{"name":"xt"},"mark":{"type":"tick","orient":"vertical","color":"#111","size":8,"thickness":1.1},"encoding":{"x":{"field":"m","type":"quantitative","axis":null},"y":{"datum":-1.53,"type":"quantitative"}}},
{"data":{"name":"yt"},"transform":[{"filter":"datum.p=='L'"}],"mark":{"type":"tick","orient":"horizontal","color":"#111","size":8,"thickness":1.2},"encoding":{"x":{"datum":600.4,"type":"quantitative","axis":null},"y":{"field":"v","type":"quantitative","title":null}}}
]}
]
}
